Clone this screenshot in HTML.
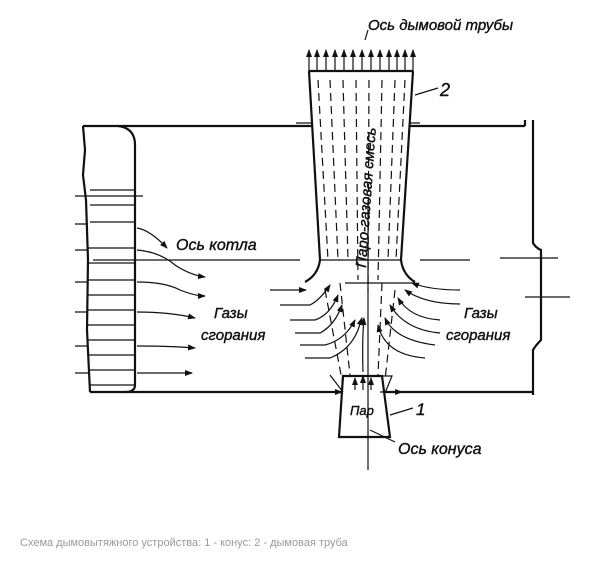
<!DOCTYPE html>
<html><head><meta charset="utf-8"><style>
html,body{margin:0;padding:0;background:#fff;width:610px;height:570px;overflow:hidden}
svg{position:absolute;left:0;top:0}
.t{font-family:"Liberation Sans",sans-serif;font-style:italic;fill:#111;stroke:#111;stroke-width:0.4}
</style></head><body>
<svg width="610" height="570" viewBox="0 0 610 570">
<defs>
<marker id="a" markerWidth="8" markerHeight="6" refX="7" refY="3" orient="auto" markerUnits="userSpaceOnUse"><path d="M0,0 L8,3 L0,6 Z" fill="#111"/></marker>
</defs>
<g stroke="#111" fill="none" stroke-width="2.2">
<path d="M83,126 H312 M410,126 H525 M525,126 V120"/>
<path d="M533,120 V243 Q536,248 541,250 V340 Q536,345 533,350 V395"/>
<path d="M90,392 H342 M385,392 H533"/>
<path d="M83,126 L85,150 L83,175 L86,200 L88,260 L87,330 L90,392 M118,126 Q135,128 135,145 V385 Q135,392 125,392"/>
<path d="M309,71 H413 M309,71 L320,260 Q318,275 305,282 M413,71 L401,260 Q403,275 415,282"/>
<path d="M343,376 H382 L390,437 H339 Z"/>
</g>
<g stroke="#111" stroke-width="1.2" fill="none">
<path d="M296,123 H312 M410,123 H420"/>
<path d="M90,190 H135 M90,205 H135 M90,222 H135 M88,248 H135 M88,263 H135 M88,280 H135 M88,295 H135 M88,310 H135 M88,325 H135 M88,340 H135 M88,355 H135 M88,370 H135 M90,385 H135"/>
<path d="M75,196 H143 M75,224 H88 M75,250 H88 M75,282 H88 M75,312 H88 M75,346 H88 M75,373 H88"/>
<path d="M93,260 H280 M240,260 H300 M320,260 H401 M420,260 H470 M500,258 H558 M525,297 H570 M345,283 H415 M355,376 H392 L385,393 M330,375 L343,392 M368,200 V470"/>
<g stroke-dasharray="8,5">
<path d="M318,80 L328,260 M330,80 L338,260 M343,80 L348,260 M356,80 L358,280 M369,80 L368,290 M382,80 L378,280 M395,80 L388,260 M405,80 L396,260"/>
<path d="M340,283 L350,375 M382,283 L378,375 M325,290 L342,380 M395,290 L385,380"/>
</g>
<g marker-end="url(#a)">
<path d="M309,71 V50"/><path d="M317,71 V50"/><path d="M326,71 V50"/><path d="M335,71 V50"/><path d="M344,71 V50"/><path d="M353,71 V50"/><path d="M362,71 V50"/><path d="M371,71 V50"/><path d="M380,71 V50"/><path d="M389,71 V50"/><path d="M397,71 V50"/><path d="M405,71 V50"/><path d="M413,71 V50"/>
<path d="M137,228 Q150,230 167,248"/>
<path d="M137,250 Q160,252 175,265 Q190,275 205,277"/>
<path d="M137,282 Q165,282 180,290 Q195,296 205,296"/>
<path d="M137,312 Q170,312 195,318"/>
<path d="M137,346 Q170,346 195,348"/>
<path d="M137,373 H192"/>
<path d="M270,290 H306"/>
<path d="M280,305 H310 Q320,300 330,285"/>
<path d="M290,320 H315 Q330,315 338,295"/>
<path d="M295,333 H320 Q335,325 342,305"/>
<path d="M300,345 H325 Q345,340 355,320"/>
<path d="M305,358 H330 Q350,350 358,330 L362,318"/>
<path d="M460,290 Q430,290 412,283"/>
<path d="M460,304 Q425,304 405,290"/>
<path d="M440,320 Q410,318 398,298"/>
<path d="M440,333 Q405,330 390,305"/>
<path d="M435,345 Q395,340 385,318"/>
<path d="M425,358 Q385,355 378,325"/>
<path d="M363,372 Q362,340 364,318"/>
<path d="M355,390 V378"/><path d="M363,390 V376"/><path d="M371,390 V378"/>
<path d="M380,392 H402"/><path d="M326,392 H342"/>
</g>
<path d="M415,95 L438,88 M370,430 L395,442 M390,415 L413,408 M368,30 L365,40"/>
</g>
<text class="t" x="368" y="30" font-size="15">Ось дымовой трубы</text>
<text class="t" x="440" y="96" font-size="18">2</text>
<text class="t" font-size="15" transform="translate(366,268) rotate(-86)">Паро-газовая смесь</text>
<text class="t" x="176" y="250" font-size="16">Ось котла</text>
<text class="t" x="214" y="318" font-size="15">Газы</text>
<text class="t" x="201" y="340" font-size="15">сгорания</text>
<text class="t" x="464" y="318" font-size="15">Газы</text>
<text class="t" x="446" y="340" font-size="15">сгорания</text>
<text class="t" x="350" y="415" font-size="13">Пар</text>
<text class="t" x="416" y="415" font-size="17">1</text>
<text class="t" x="398" y="454" font-size="16">Ось конуса</text>
<text x="20" y="546" font-size="11" fill="#9a9a9a" font-family="Liberation Sans, sans-serif">Схема дымовытяжного устройства: 1 - конус: 2 - дымовая труба</text>
</svg>
</body></html>
